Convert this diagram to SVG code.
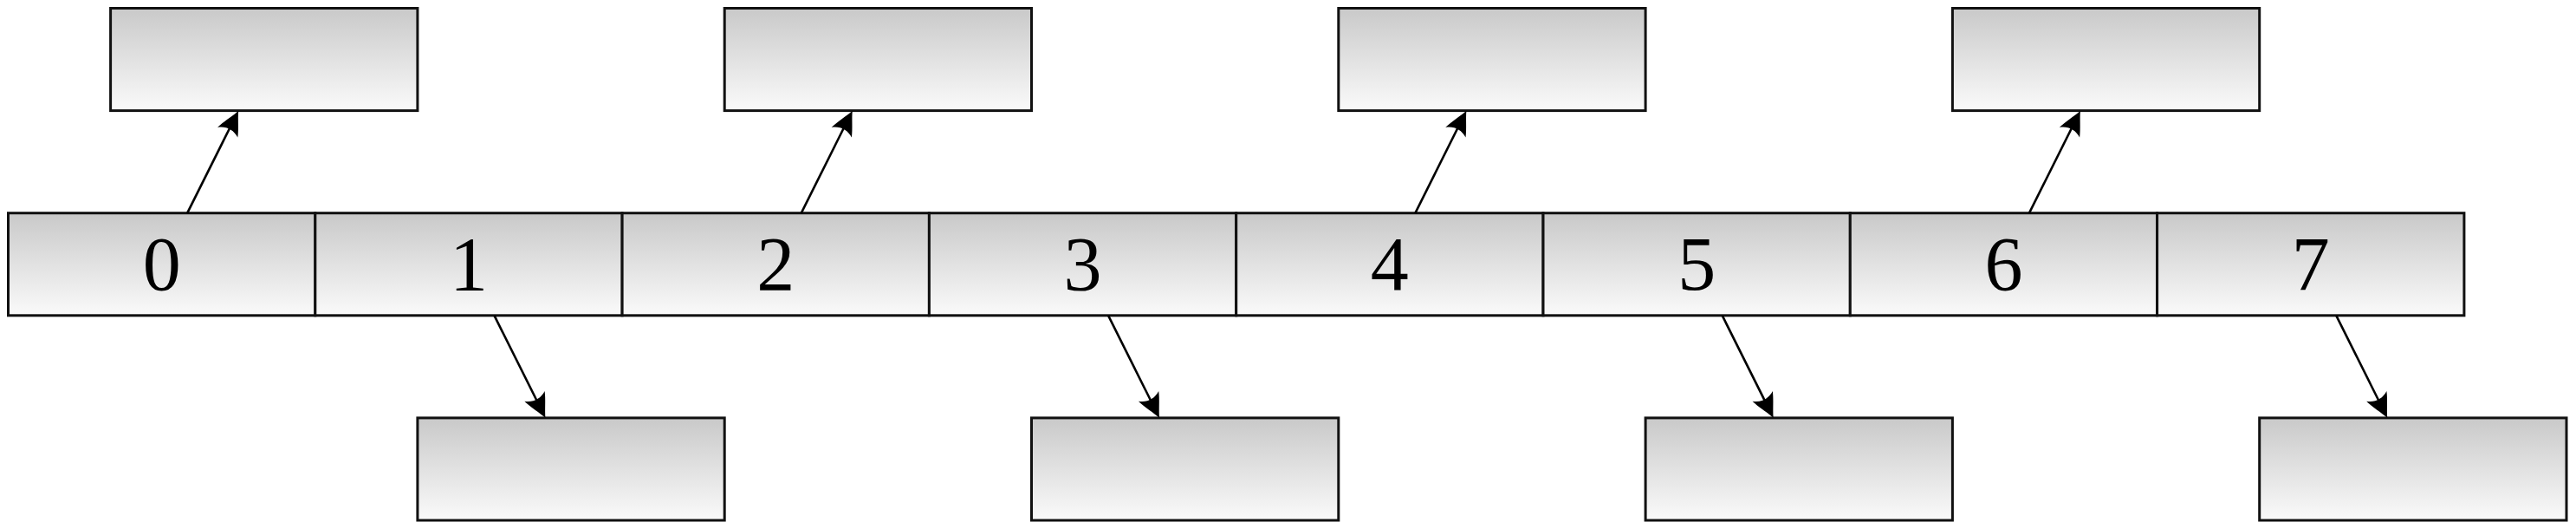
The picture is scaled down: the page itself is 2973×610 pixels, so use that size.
<svg xmlns="http://www.w3.org/2000/svg" width="2973" height="610" viewBox="0 0 2973 610">
<defs>
<linearGradient id="g" x1="0" y1="0" x2="0" y2="1">
<stop offset="0" stop-color="#c9c9c9"/>
<stop offset="1" stop-color="#fafafa"/>
</linearGradient>
<marker id="ah" markerUnits="userSpaceOnUse" viewBox="-32 -16 40 32" markerWidth="40" markerHeight="32" refX="-6" refY="0" orient="auto">
<path d="M0,0 C-8,-3 -19,-10 -28,-13 C-22,-5 -22,5 -28,13 C-19,10 -8,3 0,0 Z" fill="#000"/>
</marker>
<style>
.b{fill:url(#g);stroke:#111;stroke-width:3}
.t{font-family:"Liberation Serif","DejaVu Serif",serif;font-size:88px;text-anchor:middle;fill:#000}
.c{stroke:#000;stroke-width:2.6;fill:none;marker-end:url(#ah)}
</style>
</defs>
<rect width="2973" height="610" fill="#fff"/>
<g id="cells">
<g id="cell0"><rect class="b" x="9.5" y="245.7" width="354.3" height="118.1"/><text class="t" x="186.65" y="334">0</text></g>
<g id="cell1"><rect class="b" x="363.8" y="245.7" width="354.3" height="118.1"/><text class="t" x="540.95" y="334">1</text></g>
<g id="cell2"><rect class="b" x="718.1" y="245.7" width="354.3" height="118.1"/><text class="t" x="895.25" y="334">2</text></g>
<g id="cell3"><rect class="b" x="1072.4" y="245.7" width="354.3" height="118.1"/><text class="t" x="1249.55" y="334">3</text></g>
<g id="cell4"><rect class="b" x="1426.7" y="245.7" width="354.3" height="118.1"/><text class="t" x="1603.85" y="334">4</text></g>
<g id="cell5"><rect class="b" x="1781.0" y="245.7" width="354.3" height="118.1"/><text class="t" x="1958.15" y="334">5</text></g>
<g id="cell6"><rect class="b" x="2135.3" y="245.7" width="354.3" height="118.1"/><text class="t" x="2312.45" y="334">6</text></g>
<g id="cell7"><rect class="b" x="2489.6" y="245.7" width="354.3" height="118.1"/><text class="t" x="2666.75" y="334">7</text></g>
</g>
<g id="box0"><rect class="b" x="127.6" y="9.5" width="354.3" height="118.1"/></g>
<g id="box2"><rect class="b" x="836.2" y="9.5" width="354.3" height="118.1"/></g>
<g id="box4"><rect class="b" x="1544.8" y="9.5" width="354.3" height="118.1"/></g>
<g id="box6"><rect class="b" x="2253.4" y="9.5" width="354.3" height="118.1"/></g>
<g id="box1"><rect class="b" x="481.9" y="481.9" width="354.3" height="118.1"/></g>
<g id="box3"><rect class="b" x="1190.5" y="481.9" width="354.3" height="118.1"/></g>
<g id="box5"><rect class="b" x="1899.1" y="481.9" width="354.3" height="118.1"/></g>
<g id="box7"><rect class="b" x="2607.7" y="481.9" width="354.3" height="118.1"/></g>
<g id="connectors">
<path class="c" d="M216.2,245.7 L272.5,133.0"/>
<path class="c" d="M924.8,245.7 L981.1,133.0"/>
<path class="c" d="M1633.4,245.7 L1689.7,133.0"/>
<path class="c" d="M2342.0,245.7 L2398.3,133.0"/>
<path class="c" d="M570.5,363.8 L626.8,476.5"/>
<path class="c" d="M1279.1,363.8 L1335.4,476.5"/>
<path class="c" d="M1987.7,363.8 L2044.0,476.5"/>
<path class="c" d="M2696.3,363.8 L2752.6,476.5"/>
</g>
</svg>
